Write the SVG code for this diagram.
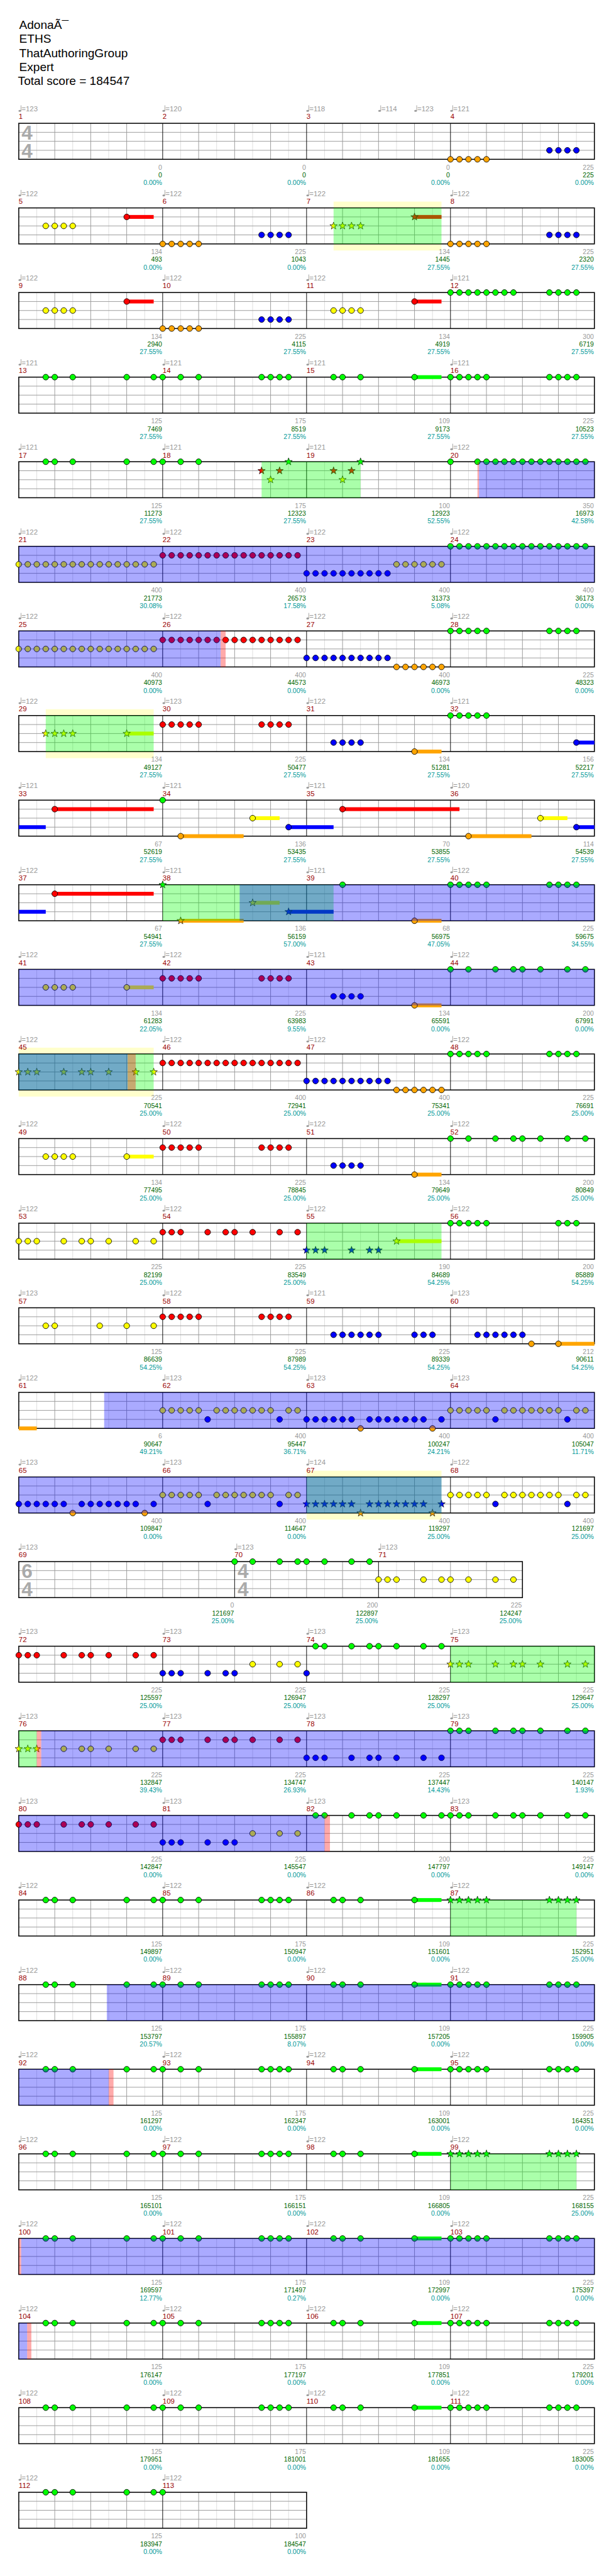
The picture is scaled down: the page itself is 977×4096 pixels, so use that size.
<svg xmlns="http://www.w3.org/2000/svg" xmlns:xlink="http://www.w3.org/1999/xlink" width="977" height="4096" viewBox="0 0 977 4096">
<defs>
<style>
text{font-family:"Liberation Sans",Arial,sans-serif}
.tp{font-size:12px;fill:#999}
.mn{font-size:12px;fill:#900}
.a,.b,.c{font-size:11px;text-anchor:end}
.a{fill:#999}.b{fill:#060}.c{fill:#099}
.ts{font-size:33px;font-weight:bold;fill:#aaa}
.ti{font-size:20px;fill:#000}
.ga{fill:#0f0;fill-opacity:.333}
.ba{fill:#00f;fill-opacity:.333}
.ra{fill:#f00;fill-opacity:.333}
.yh{fill:#ffc}
.uG{fill:#0f0}.uR{fill:#f00}.uY{fill:#ff0}.uB{fill:#00f}.uO{fill:#ffa500}
</style>
<g id="grid4">
<rect width="960" height="60" fill="#fff"/>
<path d="M30,0v60M90,0v60M150,0v60M210,0v60M270,0v60M330,0v60M390,0v60M450,0v60M510,0v60M570,0v60M630,0v60M690,0v60M750,0v60M810,0v60M870,0v60M930,0v60" stroke="#ddd"/>
<path d="M60,0v60M120,0v60M180,0v60M300,0v60M360,0v60M420,0v60M540,0v60M600,0v60M660,0v60M780,0v60M840,0v60M900,0v60M0,15h960M0,30h960M0,45h960" stroke="#999"/>
<path d="M240,0v60M480,0v60M720,0v60" stroke="#000"/>
<rect width="960" height="60" fill="none" stroke="#000" stroke-width="1.6"/>
</g>
<g id="grid3">
<rect width="840" height="60" fill="#fff"/>
<path d="M30,0v60M90,0v60M150,0v60M210,0v60M270,0v60M330,0v60M390,0v60M450,0v60M510,0v60M570,0v60M630,0v60M690,0v60M750,0v60M810,0v60" stroke="#ddd"/>
<path d="M60,0v60M120,0v60M180,0v60M240,0v60M300,0v60M420,0v60M480,0v60M540,0v60M660,0v60M720,0v60M780,0v60M0,15h840M0,30h840M0,45h840" stroke="#999"/>
<path d="M360,0v60M600,0v60" stroke="#000"/>
<rect width="840" height="60" fill="none" stroke="#000" stroke-width="1.6"/>
</g>
<g id="grid2">
<rect width="480" height="60" fill="#fff"/>
<path d="M30,0v60M90,0v60M150,0v60M210,0v60M270,0v60M330,0v60M390,0v60M450,0v60" stroke="#ddd"/>
<path d="M60,0v60M120,0v60M180,0v60M300,0v60M360,0v60M420,0v60M0,15h480M0,30h480M0,45h480" stroke="#999"/>
<path d="M240,0v60" stroke="#000"/>
<rect width="480" height="60" fill="none" stroke="#000" stroke-width="1.6"/>
</g>
<g id="tq" fill="#999"><ellipse cx="1.8" cy="-20.8" rx="2.2" ry="1.6"/><rect x="3.2" y="-30" width="0.9" height="9.2"/></g>
<circle id="G" r="4.8" cy="0" fill="#0f0" stroke="#000" stroke-width="0.9"/>
<circle id="R" r="4.8" cy="15" fill="#f00" stroke="#000" stroke-width="0.9"/>
<circle id="Y" r="4.8" cy="30" fill="#ff0" stroke="#000" stroke-width="0.9"/>
<circle id="B" r="4.8" cy="45" fill="#00f" stroke="#000" stroke-width="0.9"/>
<circle id="O" r="4.8" cy="60" fill="#ffa500" stroke="#000" stroke-width="0.9"/>
<path id="sp" d="M0,-6.5L1.53,-2.1L6.18,-2.01L2.47,0.8L3.82,5.26L0,2.6L-3.82,5.26L-2.47,0.8L-6.18,-2.01L-1.53,-2.1Z"/>
<use id="sG" href="#sp" fill="#0f0" stroke="#000" stroke-width="0.7"/>
<use id="sR" href="#sp" y="15" fill="#f00" stroke="#000" stroke-width="0.7"/>
<use id="sY" href="#sp" y="30" fill="#ff0" stroke="#000" stroke-width="0.7"/>
<use id="sB" href="#sp" y="45" fill="#00f" stroke="#000" stroke-width="0.7"/>
<use id="sO" href="#sp" y="60" fill="#ffa500" stroke="#000" stroke-width="0.7"/>
<g id="gp3">
<rect class="uG" x="660" y="-3.2" width="45" height="6.4"/>
<use href="#G" x="45"/><use href="#G" x="60"/><use href="#G" x="90"/><use href="#G" x="180"/><use href="#G" x="225"/><use href="#G" x="240"/><use href="#G" x="270"/><use href="#G" x="300"/>
<use href="#G" x="405"/><use href="#G" x="420"/><use href="#G" x="435"/><use href="#G" x="450"/>
<use href="#G" x="525"/><use href="#G" x="540"/><use href="#G" x="570"/><use href="#G" x="660"/>
</g>
<g id="gp1"><use href="#G" x="720"/><use href="#G" x="735"/><use href="#G" x="750"/><use href="#G" x="765"/><use href="#G" x="780"/><use href="#G" x="885"/><use href="#G" x="900"/><use href="#G" x="915"/><use href="#G" x="930"/></g>
<g id="gs1"><use href="#sG" x="720"/><use href="#sG" x="735"/><use href="#sG" x="750"/><use href="#sG" x="765"/><use href="#sG" x="780"/><use href="#sG" x="885"/><use href="#sG" x="900"/><use href="#sG" x="915"/><use href="#sG" x="930"/></g>
<g id="t4">
<use href="#tq" x="0"/><use href="#tq" x="240"/><use href="#tq" x="480"/><use href="#tq" x="720"/>
</g>
</defs>
<rect width="977" height="4096" fill="#fff"/>
<g transform="scale(0.9541)">
<g id="header">
<text class="ti" x="32" y="48">AdonaÃ¯</text>
<text class="ti" x="32" y="71.5">ETHS</text>
<text class="ti" x="32" y="95">ThatAuthoringGroup</text>
<text class="ti" x="32" y="118.5">Expert</text>
<text class="ti" x="30" y="142">Total score = 184547</text>
</g>

<g id="row0" transform="translate(31.3,205.5)">
<use href="#grid4"/>
<text class="ts" x="4.7" y="26.7">4</text><text class="ts" x="4.7" y="57.3">4</text>
<use href="#O" x="720"/><use href="#O" x="735"/><use href="#O" x="750"/><use href="#O" x="765"/><use href="#O" x="780"/>
<use href="#B" x="885"/><use href="#B" x="900"/><use href="#B" x="915"/><use href="#B" x="930"/>
<use href="#tq" x="0"/><text class="tp" x="4.7" y="-20">=123</text>
<use href="#tq" x="240"/><text class="tp" x="244.7" y="-20">=120</text>
<use href="#tq" x="480"/><text class="tp" x="484.7" y="-20">=118</text>
<use href="#tq" x="600"/><text class="tp" x="604.7" y="-20">=114</text>
<use href="#tq" x="660"/><text class="tp" x="664.7" y="-20">=123</text>
<use href="#tq" x="720"/><text class="tp" x="724.7" y="-20">=121</text>
<text class="mn" x="0" y="-7">1</text><text class="mn" x="240" y="-7">2</text><text class="mn" x="480" y="-7">3</text><text class="mn" x="720" y="-7">4</text>
<text class="a" x="239" y="77">0</text><text class="b" x="239" y="90">0</text><text class="c" x="239" y="103">0.00%</text>
<text class="a" x="479" y="77">0</text><text class="b" x="479" y="90">0</text><text class="c" x="479" y="103">0.00%</text>
<text class="a" x="719" y="77">0</text><text class="b" x="719" y="90">0</text><text class="c" x="719" y="103">0.00%</text>
<text class="a" x="959" y="77">225</text><text class="b" x="959" y="90">225</text><text class="c" x="959" y="103">0.00%</text>
</g>

<g id="row1" transform="translate(31.3,346.5)">
<rect class="yh" x="525" y="-10.5" width="180" height="81.5"/>
<use href="#grid4"/>
<rect class="uR" x="180" y="11.8" width="45" height="6.4"/><rect class="uR" x="660" y="11.8" width="45" height="6.4"/>
<use href="#Y" x="45"/><use href="#Y" x="60"/><use href="#Y" x="75"/><use href="#Y" x="90"/>
<use href="#R" x="180"/>
<use href="#O" x="240"/><use href="#O" x="255"/><use href="#O" x="270"/><use href="#O" x="285"/><use href="#O" x="300"/>
<use href="#B" x="405"/><use href="#B" x="420"/><use href="#B" x="435"/><use href="#B" x="450"/>
<use href="#sY" x="525"/><use href="#sY" x="540"/><use href="#sY" x="555"/><use href="#sY" x="570"/>
<use href="#sR" x="660"/>
<use href="#O" x="720"/><use href="#O" x="735"/><use href="#O" x="750"/><use href="#O" x="765"/><use href="#O" x="780"/>
<use href="#B" x="885"/><use href="#B" x="900"/><use href="#B" x="915"/><use href="#B" x="930"/>
<rect class="ga" x="525" width="180" height="60"/>
<use href="#t4"/><text class="tp" x="4.7" y="-20">=122</text><text class="tp" x="244.7" y="-20">=122</text><text class="tp" x="484.7" y="-20">=122</text><text class="tp" x="724.7" y="-20">=122</text>
<text class="mn" x="0" y="-7">5</text><text class="mn" x="240" y="-7">6</text><text class="mn" x="480" y="-7">7</text><text class="mn" x="720" y="-7">8</text>
<text class="a" x="239" y="77">134</text><text class="b" x="239" y="90">493</text><text class="c" x="239" y="103">0.00%</text>
<text class="a" x="479" y="77">225</text><text class="b" x="479" y="90">1043</text><text class="c" x="479" y="103">0.00%</text>
<text class="a" x="719" y="77">134</text><text class="b" x="719" y="90">1445</text><text class="c" x="719" y="103">27.55%</text>
<text class="a" x="959" y="77">225</text><text class="b" x="959" y="90">2320</text><text class="c" x="959" y="103">27.55%</text>
</g>

<g id="row2" transform="translate(31.3,487.5)">
<use href="#grid4"/>
<rect class="uR" x="180" y="11.8" width="45" height="6.4"/><rect class="uR" x="660" y="11.8" width="45" height="6.4"/>
<use href="#Y" x="45"/><use href="#Y" x="60"/><use href="#Y" x="75"/><use href="#Y" x="90"/>
<use href="#R" x="180"/>
<use href="#O" x="240"/><use href="#O" x="255"/><use href="#O" x="270"/><use href="#O" x="285"/><use href="#O" x="300"/>
<use href="#B" x="405"/><use href="#B" x="420"/><use href="#B" x="435"/><use href="#B" x="450"/>
<use href="#Y" x="525"/><use href="#Y" x="540"/><use href="#Y" x="555"/><use href="#Y" x="570"/>
<use href="#R" x="660"/>
<use href="#G" x="720"/><use href="#G" x="735"/><use href="#G" x="750"/><use href="#G" x="765"/><use href="#G" x="780"/><use href="#G" x="795"/><use href="#G" x="810"/><use href="#G" x="825"/>
<use href="#G" x="885"/><use href="#G" x="900"/><use href="#G" x="915"/><use href="#G" x="930"/>
<use href="#t4"/><text class="tp" x="4.7" y="-20">=122</text><text class="tp" x="244.7" y="-20">=122</text><text class="tp" x="484.7" y="-20">=122</text><text class="tp" x="724.7" y="-20">=121</text>
<text class="mn" x="0" y="-7">9</text><text class="mn" x="240" y="-7">10</text><text class="mn" x="480" y="-7">11</text><text class="mn" x="720" y="-7">12</text>
<text class="a" x="239" y="77">134</text><text class="b" x="239" y="90">2940</text><text class="c" x="239" y="103">27.55%</text>
<text class="a" x="479" y="77">225</text><text class="b" x="479" y="90">4115</text><text class="c" x="479" y="103">27.55%</text>
<text class="a" x="719" y="77">134</text><text class="b" x="719" y="90">4919</text><text class="c" x="719" y="103">27.55%</text>
<text class="a" x="959" y="77">300</text><text class="b" x="959" y="90">6719</text><text class="c" x="959" y="103">27.55%</text>
</g>

<g id="row3" transform="translate(31.3,628.5)">
<use href="#grid4"/>
<use href="#gp3"/><use href="#gp1"/>
<use href="#t4"/><text class="tp" x="4.7" y="-20">=121</text><text class="tp" x="244.7" y="-20">=121</text><text class="tp" x="484.7" y="-20">=121</text><text class="tp" x="724.7" y="-20">=121</text>
<text class="mn" x="0" y="-7">13</text><text class="mn" x="240" y="-7">14</text><text class="mn" x="480" y="-7">15</text><text class="mn" x="720" y="-7">16</text>
<text class="a" x="239" y="77">125</text><text class="b" x="239" y="90">7469</text><text class="c" x="239" y="103">27.55%</text>
<text class="a" x="479" y="77">175</text><text class="b" x="479" y="90">8519</text><text class="c" x="479" y="103">27.55%</text>
<text class="a" x="719" y="77">109</text><text class="b" x="719" y="90">9173</text><text class="c" x="719" y="103">27.55%</text>
<text class="a" x="959" y="77">225</text><text class="b" x="959" y="90">10523</text><text class="c" x="959" y="103">27.55%</text>
</g>

<g id="row4" transform="translate(31.3,769.5)">
<use href="#grid4"/>
<use href="#G" x="45"/><use href="#G" x="60"/><use href="#G" x="90"/><use href="#G" x="180"/><use href="#G" x="225"/><use href="#G" x="240"/><use href="#G" x="270"/><use href="#G" x="300"/>
<use href="#sR" x="405"/><use href="#sY" x="420"/><use href="#sR" x="435"/><use href="#sG" x="450"/>
<use href="#sR" x="525"/><use href="#sY" x="540"/><use href="#sR" x="555"/><use href="#sG" x="570"/>
<use href="#G" x="720"/>
<use href="#G" x="765"/><use href="#G" x="780"/><use href="#G" x="795"/><use href="#G" x="810"/><use href="#G" x="825"/><use href="#G" x="840"/><use href="#G" x="855"/><use href="#G" x="870"/><use href="#G" x="885"/><use href="#G" x="900"/><use href="#G" x="915"/><use href="#G" x="930"/><use href="#G" x="945"/>
<rect class="ga" x="405" width="165" height="60"/>
<rect class="ra" x="765" width="2.5" height="60"/>
<rect class="ba" x="767.5" width="192.5" height="60"/>
<use href="#t4"/><text class="tp" x="4.7" y="-20">=121</text><text class="tp" x="244.7" y="-20">=121</text><text class="tp" x="484.7" y="-20">=121</text><text class="tp" x="724.7" y="-20">=122</text>
<text class="mn" x="0" y="-7">17</text><text class="mn" x="240" y="-7">18</text><text class="mn" x="480" y="-7">19</text><text class="mn" x="720" y="-7">20</text>
<text class="a" x="239" y="77">125</text><text class="b" x="239" y="90">11273</text><text class="c" x="239" y="103">27.55%</text>
<text class="a" x="479" y="77">175</text><text class="b" x="479" y="90">12323</text><text class="c" x="479" y="103">27.55%</text>
<text class="a" x="719" y="77">100</text><text class="b" x="719" y="90">12923</text><text class="c" x="719" y="103">52.55%</text>
<text class="a" x="959" y="77">350</text><text class="b" x="959" y="90">16973</text><text class="c" x="959" y="103">42.58%</text>
</g>

<g id="row5" transform="translate(31.3,910.5)">
<use href="#grid4"/>
<use href="#Y" x="0"/><use href="#Y" x="15"/><use href="#Y" x="30"/><use href="#Y" x="45"/><use href="#Y" x="60"/><use href="#Y" x="75"/><use href="#Y" x="90"/><use href="#Y" x="105"/><use href="#Y" x="120"/><use href="#Y" x="135"/><use href="#Y" x="150"/><use href="#Y" x="165"/><use href="#Y" x="180"/><use href="#Y" x="195"/><use href="#Y" x="210"/><use href="#Y" x="225"/>
<use href="#R" x="240"/><use href="#R" x="255"/><use href="#R" x="270"/><use href="#R" x="285"/><use href="#R" x="300"/><use href="#R" x="315"/><use href="#R" x="330"/><use href="#R" x="345"/><use href="#R" x="360"/><use href="#R" x="375"/><use href="#R" x="390"/><use href="#R" x="405"/><use href="#R" x="420"/><use href="#R" x="435"/><use href="#R" x="450"/><use href="#R" x="465"/>
<use href="#B" x="480"/><use href="#B" x="495"/><use href="#B" x="510"/><use href="#B" x="525"/><use href="#B" x="540"/><use href="#B" x="555"/><use href="#B" x="570"/><use href="#B" x="585"/><use href="#B" x="600"/><use href="#B" x="615"/>
<use href="#Y" x="630"/><use href="#Y" x="645"/><use href="#Y" x="660"/><use href="#Y" x="675"/><use href="#Y" x="690"/><use href="#Y" x="705"/>
<use href="#G" x="720"/><use href="#G" x="735"/><use href="#G" x="750"/><use href="#G" x="765"/><use href="#G" x="780"/><use href="#G" x="795"/><use href="#G" x="810"/><use href="#G" x="825"/><use href="#G" x="840"/><use href="#G" x="855"/><use href="#G" x="870"/><use href="#G" x="885"/><use href="#G" x="900"/><use href="#G" x="915"/><use href="#G" x="930"/><use href="#G" x="945"/>
<rect class="ba" width="960" height="60"/>
<use href="#t4"/><text class="tp" x="4.7" y="-20">=122</text><text class="tp" x="244.7" y="-20">=122</text><text class="tp" x="484.7" y="-20">=122</text><text class="tp" x="724.7" y="-20">=122</text>
<text class="mn" x="0" y="-7">21</text><text class="mn" x="240" y="-7">22</text><text class="mn" x="480" y="-7">23</text><text class="mn" x="720" y="-7">24</text>
<text class="a" x="239" y="77">400</text><text class="b" x="239" y="90">21773</text><text class="c" x="239" y="103">30.08%</text>
<text class="a" x="479" y="77">400</text><text class="b" x="479" y="90">26573</text><text class="c" x="479" y="103">17.58%</text>
<text class="a" x="719" y="77">400</text><text class="b" x="719" y="90">31373</text><text class="c" x="719" y="103">5.08%</text>
<text class="a" x="959" y="77">400</text><text class="b" x="959" y="90">36173</text><text class="c" x="959" y="103">0.00%</text>
</g>

<g id="row6" transform="translate(31.3,1051.5)">
<use href="#grid4"/>
<use href="#Y" x="0"/><use href="#Y" x="15"/><use href="#Y" x="30"/><use href="#Y" x="45"/><use href="#Y" x="60"/><use href="#Y" x="75"/><use href="#Y" x="90"/><use href="#Y" x="105"/><use href="#Y" x="120"/><use href="#Y" x="135"/><use href="#Y" x="150"/><use href="#Y" x="165"/><use href="#Y" x="180"/><use href="#Y" x="195"/><use href="#Y" x="210"/><use href="#Y" x="225"/>
<use href="#R" x="240"/><use href="#R" x="255"/><use href="#R" x="270"/><use href="#R" x="285"/><use href="#R" x="300"/><use href="#R" x="315"/><use href="#R" x="330"/><use href="#R" x="345"/><use href="#R" x="360"/><use href="#R" x="375"/><use href="#R" x="390"/><use href="#R" x="405"/><use href="#R" x="420"/><use href="#R" x="435"/><use href="#R" x="450"/><use href="#R" x="465"/>
<use href="#B" x="480"/><use href="#B" x="495"/><use href="#B" x="510"/><use href="#B" x="525"/><use href="#B" x="540"/><use href="#B" x="555"/><use href="#B" x="570"/><use href="#B" x="585"/><use href="#B" x="600"/><use href="#B" x="615"/>
<use href="#O" x="630"/><use href="#O" x="645"/><use href="#O" x="660"/><use href="#O" x="675"/><use href="#O" x="690"/><use href="#O" x="705"/>
<use href="#G" x="720"/><use href="#G" x="735"/><use href="#G" x="750"/><use href="#G" x="765"/><use href="#G" x="780"/>
<use href="#G" x="885"/><use href="#G" x="900"/><use href="#G" x="915"/><use href="#G" x="930"/>
<rect class="ba" width="336.7" height="60"/><rect class="ra" x="336.7" width="8.3" height="60"/>
<use href="#t4"/><text class="tp" x="4.7" y="-20">=122</text><text class="tp" x="244.7" y="-20">=122</text><text class="tp" x="484.7" y="-20">=122</text><text class="tp" x="724.7" y="-20">=122</text>
<text class="mn" x="0" y="-7">25</text><text class="mn" x="240" y="-7">26</text><text class="mn" x="480" y="-7">27</text><text class="mn" x="720" y="-7">28</text>
<text class="a" x="239" y="77">400</text><text class="b" x="239" y="90">40973</text><text class="c" x="239" y="103">0.00%</text>
<text class="a" x="479" y="77">400</text><text class="b" x="479" y="90">44573</text><text class="c" x="479" y="103">0.00%</text>
<text class="a" x="719" y="77">400</text><text class="b" x="719" y="90">46973</text><text class="c" x="719" y="103">0.00%</text>
<text class="a" x="959" y="77">225</text><text class="b" x="959" y="90">48323</text><text class="c" x="959" y="103">0.00%</text>
</g>

<g id="row7" transform="translate(31.3,1192.5)">
<rect class="yh" x="45" y="-10.5" width="180" height="81.5"/>
<use href="#grid4"/>
<rect class="uY" x="180" y="26.8" width="45" height="6.4"/><rect class="uO" x="660" y="56.8" width="45" height="6.4"/><rect class="uB" x="930" y="41.8" width="30" height="6.4"/>
<use href="#sY" x="45"/><use href="#sY" x="60"/><use href="#sY" x="75"/><use href="#sY" x="90"/><use href="#sY" x="180"/>
<use href="#R" x="240"/><use href="#R" x="255"/><use href="#R" x="270"/><use href="#R" x="285"/><use href="#R" x="300"/>
<use href="#R" x="405"/><use href="#R" x="420"/><use href="#R" x="435"/><use href="#R" x="450"/>
<use href="#B" x="525"/><use href="#B" x="540"/><use href="#B" x="555"/><use href="#B" x="570"/>
<use href="#O" x="660"/>
<use href="#G" x="720"/><use href="#G" x="735"/><use href="#G" x="750"/><use href="#G" x="765"/><use href="#G" x="780"/>
<use href="#B" x="930"/>
<rect class="ga" x="45" width="180" height="60"/>
<use href="#t4"/><text class="tp" x="4.7" y="-20">=122</text><text class="tp" x="244.7" y="-20">=123</text><text class="tp" x="484.7" y="-20">=122</text><text class="tp" x="724.7" y="-20">=121</text>
<text class="mn" x="0" y="-7">29</text><text class="mn" x="240" y="-7">30</text><text class="mn" x="480" y="-7">31</text><text class="mn" x="720" y="-7">32</text>
<text class="a" x="239" y="77">134</text><text class="b" x="239" y="90">49127</text><text class="c" x="239" y="103">27.55%</text>
<text class="a" x="479" y="77">225</text><text class="b" x="479" y="90">50477</text><text class="c" x="479" y="103">27.55%</text>
<text class="a" x="719" y="77">134</text><text class="b" x="719" y="90">51281</text><text class="c" x="719" y="103">27.55%</text>
<text class="a" x="959" y="77">156</text><text class="b" x="959" y="90">52217</text><text class="c" x="959" y="103">27.55%</text>
</g>

<g id="row8" transform="translate(31.3,1333.5)">
<use href="#grid4"/>
<rect class="uB" x="0" y="41.8" width="45" height="6.4"/><rect class="uR" x="60" y="11.8" width="165" height="6.4"/><rect class="uO" x="270" y="56.8" width="105" height="6.4"/><rect class="uY" x="390" y="26.8" width="45" height="6.4"/><rect class="uB" x="450" y="41.8" width="75" height="6.4"/><rect class="uR" x="540" y="11.8" width="195" height="6.4"/><rect class="uO" x="750" y="56.8" width="105" height="6.4"/><rect class="uY" x="870" y="26.8" width="45" height="6.4"/><rect class="uB" x="930" y="41.8" width="30" height="6.4"/>
<use href="#R" x="60"/><use href="#G" x="240"/><use href="#O" x="270"/><use href="#Y" x="390"/><use href="#B" x="450"/><use href="#R" x="540"/><use href="#O" x="750"/><use href="#Y" x="870"/><use href="#B" x="930"/>
<use href="#t4"/><text class="tp" x="4.7" y="-20">=121</text><text class="tp" x="244.7" y="-20">=121</text><text class="tp" x="484.7" y="-20">=121</text><text class="tp" x="724.7" y="-20">=120</text>
<text class="mn" x="0" y="-7">33</text><text class="mn" x="240" y="-7">34</text><text class="mn" x="480" y="-7">35</text><text class="mn" x="720" y="-7">36</text>
<text class="a" x="239" y="77">67</text><text class="b" x="239" y="90">52619</text><text class="c" x="239" y="103">27.55%</text>
<text class="a" x="479" y="77">136</text><text class="b" x="479" y="90">53435</text><text class="c" x="479" y="103">27.55%</text>
<text class="a" x="719" y="77">70</text><text class="b" x="719" y="90">53855</text><text class="c" x="719" y="103">27.55%</text>
<text class="a" x="959" y="77">114</text><text class="b" x="959" y="90">54539</text><text class="c" x="959" y="103">27.55%</text>
</g>

<g id="row9" transform="translate(31.3,1474.5)">
<use href="#grid4"/>
<rect class="uB" x="0" y="41.8" width="45" height="6.4"/><rect class="uR" x="60" y="11.8" width="165" height="6.4"/><rect class="uO" x="270" y="56.8" width="105" height="6.4"/><rect class="uY" x="390" y="26.8" width="45" height="6.4"/><rect class="uB" x="450" y="41.8" width="75" height="6.4"/><rect class="uO" x="660" y="56.8" width="45" height="6.4"/>
<use href="#R" x="60"/><use href="#sG" x="240"/><use href="#sO" x="270"/><use href="#sY" x="390"/><use href="#sB" x="450"/><use href="#G" x="540"/><use href="#O" x="660"/>
<use href="#G" x="720"/><use href="#G" x="735"/><use href="#G" x="750"/><use href="#G" x="765"/><use href="#G" x="780"/>
<use href="#G" x="885"/><use href="#G" x="900"/><use href="#G" x="915"/><use href="#G" x="930"/>
<rect class="ga" x="240" width="285" height="60"/>
<rect class="ba" x="368.4" width="591.6" height="60"/>
<use href="#t4"/><text class="tp" x="4.7" y="-20">=122</text><text class="tp" x="244.7" y="-20">=121</text><text class="tp" x="484.7" y="-20">=121</text><text class="tp" x="724.7" y="-20">=122</text>
<text class="mn" x="0" y="-7">37</text><text class="mn" x="240" y="-7">38</text><text class="mn" x="480" y="-7">39</text><text class="mn" x="720" y="-7">40</text>
<text class="a" x="239" y="77">67</text><text class="b" x="239" y="90">54941</text><text class="c" x="239" y="103">27.55%</text>
<text class="a" x="479" y="77">136</text><text class="b" x="479" y="90">56159</text><text class="c" x="479" y="103">57.00%</text>
<text class="a" x="719" y="77">68</text><text class="b" x="719" y="90">56975</text><text class="c" x="719" y="103">47.05%</text>
<text class="a" x="959" y="77">225</text><text class="b" x="959" y="90">59675</text><text class="c" x="959" y="103">34.55%</text>
</g>

<g id="row10" transform="translate(31.3,1615.5)">
<use href="#grid4"/>
<rect class="uY" x="180" y="26.8" width="45" height="6.4"/><rect class="uO" x="660" y="56.8" width="45" height="6.4"/>
<use href="#Y" x="45"/><use href="#Y" x="60"/><use href="#Y" x="75"/><use href="#Y" x="90"/><use href="#Y" x="180"/>
<use href="#R" x="240"/><use href="#R" x="255"/><use href="#R" x="270"/><use href="#R" x="285"/><use href="#R" x="300"/>
<use href="#R" x="405"/><use href="#R" x="420"/><use href="#R" x="435"/><use href="#R" x="450"/>
<use href="#B" x="525"/><use href="#B" x="540"/><use href="#B" x="555"/><use href="#B" x="570"/>
<use href="#O" x="660"/>
<use href="#G" x="720"/><use href="#G" x="750"/><use href="#G" x="795"/><use href="#G" x="825"/><use href="#G" x="840"/><use href="#G" x="870"/><use href="#G" x="915"/><use href="#G" x="945"/>
<rect class="ba" width="960" height="60"/>
<use href="#t4"/><text class="tp" x="4.7" y="-20">=122</text><text class="tp" x="244.7" y="-20">=122</text><text class="tp" x="484.7" y="-20">=121</text><text class="tp" x="724.7" y="-20">=122</text>
<text class="mn" x="0" y="-7">41</text><text class="mn" x="240" y="-7">42</text><text class="mn" x="480" y="-7">43</text><text class="mn" x="720" y="-7">44</text>
<text class="a" x="239" y="77">134</text><text class="b" x="239" y="90">61283</text><text class="c" x="239" y="103">22.05%</text>
<text class="a" x="479" y="77">225</text><text class="b" x="479" y="90">63983</text><text class="c" x="479" y="103">9.55%</text>
<text class="a" x="719" y="77">134</text><text class="b" x="719" y="90">65591</text><text class="c" x="719" y="103">0.00%</text>
<text class="a" x="959" y="77">200</text><text class="b" x="959" y="90">67991</text><text class="c" x="959" y="103">0.00%</text>
</g>

<g id="row11" transform="translate(31.3,1756.5)">
<rect class="yh" x="0" y="-10.5" width="225" height="81.5"/>
<use href="#grid4"/>
<use href="#sY" x="0"/><use href="#sY" x="15"/><use href="#sY" x="30"/><use href="#sY" x="75"/><use href="#sY" x="105"/><use href="#sY" x="120"/><use href="#sY" x="150"/><use href="#sY" x="195"/><use href="#sY" x="225"/>
<use href="#R" x="240"/><use href="#R" x="255"/><use href="#R" x="270"/><use href="#R" x="285"/><use href="#R" x="300"/><use href="#R" x="315"/><use href="#R" x="330"/><use href="#R" x="345"/><use href="#R" x="360"/><use href="#R" x="375"/><use href="#R" x="390"/><use href="#R" x="405"/><use href="#R" x="420"/><use href="#R" x="435"/><use href="#R" x="450"/><use href="#R" x="465"/>
<use href="#B" x="480"/><use href="#B" x="495"/><use href="#B" x="510"/><use href="#B" x="525"/><use href="#B" x="540"/><use href="#B" x="555"/><use href="#B" x="570"/><use href="#B" x="585"/><use href="#B" x="600"/><use href="#B" x="615"/>
<use href="#O" x="630"/><use href="#O" x="645"/><use href="#O" x="660"/><use href="#O" x="675"/><use href="#O" x="690"/><use href="#O" x="705"/>
<use href="#G" x="720"/><use href="#G" x="735"/><use href="#G" x="750"/><use href="#G" x="765"/><use href="#G" x="780"/>
<use href="#G" x="885"/><use href="#G" x="900"/><use href="#G" x="915"/><use href="#G" x="930"/>
<rect class="ga" width="225" height="60"/>
<rect class="ba" width="181.6" height="60"/><rect class="ra" x="181.6" width="13.4" height="60"/>
<use href="#t4"/><text class="tp" x="4.7" y="-20">=122</text><text class="tp" x="244.7" y="-20">=122</text><text class="tp" x="484.7" y="-20">=122</text><text class="tp" x="724.7" y="-20">=122</text>
<text class="mn" x="0" y="-7">45</text><text class="mn" x="240" y="-7">46</text><text class="mn" x="480" y="-7">47</text><text class="mn" x="720" y="-7">48</text>
<text class="a" x="239" y="77">225</text><text class="b" x="239" y="90">70541</text><text class="c" x="239" y="103">25.00%</text>
<text class="a" x="479" y="77">400</text><text class="b" x="479" y="90">72941</text><text class="c" x="479" y="103">25.00%</text>
<text class="a" x="719" y="77">400</text><text class="b" x="719" y="90">75341</text><text class="c" x="719" y="103">25.00%</text>
<text class="a" x="959" y="77">225</text><text class="b" x="959" y="90">76691</text><text class="c" x="959" y="103">25.00%</text>
</g>

<g id="row12" transform="translate(31.3,1897.5)">
<use href="#grid4"/>
<rect class="uY" x="180" y="26.8" width="45" height="6.4"/><rect class="uO" x="660" y="56.8" width="45" height="6.4"/>
<use href="#Y" x="45"/><use href="#Y" x="60"/><use href="#Y" x="75"/><use href="#Y" x="90"/><use href="#Y" x="180"/>
<use href="#R" x="240"/><use href="#R" x="255"/><use href="#R" x="270"/><use href="#R" x="285"/><use href="#R" x="300"/>
<use href="#R" x="405"/><use href="#R" x="420"/><use href="#R" x="435"/><use href="#R" x="450"/>
<use href="#B" x="525"/><use href="#B" x="540"/><use href="#B" x="555"/><use href="#B" x="570"/>
<use href="#O" x="660"/>
<use href="#G" x="720"/><use href="#G" x="750"/><use href="#G" x="795"/><use href="#G" x="825"/><use href="#G" x="840"/><use href="#G" x="870"/><use href="#G" x="915"/><use href="#G" x="945"/>
<use href="#t4"/><text class="tp" x="4.7" y="-20">=122</text><text class="tp" x="244.7" y="-20">=122</text><text class="tp" x="484.7" y="-20">=122</text><text class="tp" x="724.7" y="-20">=122</text>
<text class="mn" x="0" y="-7">49</text><text class="mn" x="240" y="-7">50</text><text class="mn" x="480" y="-7">51</text><text class="mn" x="720" y="-7">52</text>
<text class="a" x="239" y="77">134</text><text class="b" x="239" y="90">77495</text><text class="c" x="239" y="103">25.00%</text>
<text class="a" x="479" y="77">225</text><text class="b" x="479" y="90">78845</text><text class="c" x="479" y="103">25.00%</text>
<text class="a" x="719" y="77">134</text><text class="b" x="719" y="90">79649</text><text class="c" x="719" y="103">25.00%</text>
<text class="a" x="959" y="77">200</text><text class="b" x="959" y="90">80849</text><text class="c" x="959" y="103">25.00%</text>
</g>

<g id="row13" transform="translate(31.3,2038.5)">
<use href="#grid4"/>
<rect class="uY" x="630" y="26.8" width="75" height="6.4"/>
<use href="#Y" x="0"/><use href="#Y" x="15"/><use href="#Y" x="30"/><use href="#Y" x="75"/><use href="#Y" x="105"/><use href="#Y" x="120"/><use href="#Y" x="150"/><use href="#Y" x="195"/><use href="#Y" x="225"/>
<use href="#R" x="240"/><use href="#R" x="255"/><use href="#R" x="270"/><use href="#R" x="315"/><use href="#R" x="345"/><use href="#R" x="360"/><use href="#R" x="390"/><use href="#R" x="435"/><use href="#R" x="465"/>
<use href="#sB" x="480"/><use href="#sB" x="495"/><use href="#sB" x="510"/><use href="#sB" x="555"/><use href="#sB" x="585"/><use href="#sB" x="600"/>
<use href="#sY" x="630"/>
<use href="#G" x="720"/><use href="#G" x="735"/><use href="#G" x="750"/><use href="#G" x="765"/><use href="#G" x="780"/>
<use href="#G" x="900"/><use href="#G" x="915"/><use href="#G" x="930"/>
<rect class="ga" x="480" width="225" height="60"/>
<use href="#t4"/><text class="tp" x="4.7" y="-20">=122</text><text class="tp" x="244.7" y="-20">=122</text><text class="tp" x="484.7" y="-20">=122</text><text class="tp" x="724.7" y="-20">=122</text>
<text class="mn" x="0" y="-7">53</text><text class="mn" x="240" y="-7">54</text><text class="mn" x="480" y="-7">55</text><text class="mn" x="720" y="-7">56</text>
<text class="a" x="239" y="77">225</text><text class="b" x="239" y="90">82199</text><text class="c" x="239" y="103">25.00%</text>
<text class="a" x="479" y="77">225</text><text class="b" x="479" y="90">83549</text><text class="c" x="479" y="103">25.00%</text>
<text class="a" x="719" y="77">190</text><text class="b" x="719" y="90">84689</text><text class="c" x="719" y="103">54.25%</text>
<text class="a" x="959" y="77">200</text><text class="b" x="959" y="90">85889</text><text class="c" x="959" y="103">54.25%</text>
</g>

<g id="row14" transform="translate(31.3,2179.5)">
<use href="#grid4"/>
<rect class="uO" x="900" y="56.8" width="60" height="6.4"/>
<use href="#Y" x="45"/><use href="#Y" x="60"/><use href="#Y" x="135"/><use href="#Y" x="180"/><use href="#Y" x="225"/>
<use href="#R" x="240"/><use href="#R" x="255"/><use href="#R" x="270"/><use href="#R" x="285"/><use href="#R" x="300"/>
<use href="#R" x="405"/><use href="#R" x="420"/><use href="#R" x="435"/><use href="#R" x="450"/>
<use href="#B" x="525"/><use href="#B" x="540"/><use href="#B" x="555"/><use href="#B" x="570"/><use href="#B" x="585"/><use href="#B" x="600"/>
<use href="#B" x="660"/><use href="#B" x="675"/><use href="#B" x="690"/>
<use href="#B" x="765"/><use href="#B" x="780"/><use href="#B" x="795"/><use href="#B" x="810"/><use href="#B" x="825"/><use href="#B" x="840"/>
<use href="#O" x="855"/><use href="#O" x="900"/>
<use href="#t4"/><text class="tp" x="4.7" y="-20">=123</text><text class="tp" x="244.7" y="-20">=122</text><text class="tp" x="484.7" y="-20">=121</text><text class="tp" x="724.7" y="-20">=123</text>
<text class="mn" x="0" y="-7">57</text><text class="mn" x="240" y="-7">58</text><text class="mn" x="480" y="-7">59</text><text class="mn" x="720" y="-7">60</text>
<text class="a" x="239" y="77">125</text><text class="b" x="239" y="90">86639</text><text class="c" x="239" y="103">54.25%</text>
<text class="a" x="479" y="77">225</text><text class="b" x="479" y="90">87989</text><text class="c" x="479" y="103">54.25%</text>
<text class="a" x="719" y="77">225</text><text class="b" x="719" y="90">89339</text><text class="c" x="719" y="103">54.25%</text>
<text class="a" x="959" y="77">212</text><text class="b" x="959" y="90">90611</text><text class="c" x="959" y="103">54.25%</text>
</g>

<g id="row15" transform="translate(31.3,2320.5)">
<use href="#grid4"/>
<rect class="uO" x="0" y="56.8" width="30" height="6.4"/>
<use href="#Y" x="240"/><use href="#Y" x="255"/><use href="#Y" x="270"/><use href="#Y" x="285"/><use href="#Y" x="300"/>
<use href="#Y" x="330"/><use href="#Y" x="345"/><use href="#Y" x="360"/><use href="#Y" x="375"/><use href="#Y" x="390"/><use href="#Y" x="405"/><use href="#Y" x="420"/><use href="#Y" x="450"/><use href="#Y" x="465"/>
<use href="#Y" x="720"/><use href="#Y" x="735"/><use href="#Y" x="750"/><use href="#Y" x="765"/><use href="#Y" x="780"/>
<use href="#Y" x="810"/><use href="#Y" x="825"/><use href="#Y" x="840"/><use href="#Y" x="855"/><use href="#Y" x="870"/><use href="#Y" x="885"/><use href="#Y" x="900"/><use href="#Y" x="930"/><use href="#Y" x="945"/>
<use href="#B" x="315"/><use href="#B" x="435"/>
<use href="#B" x="480"/><use href="#B" x="495"/><use href="#B" x="510"/><use href="#B" x="525"/><use href="#B" x="540"/><use href="#B" x="555"/>
<use href="#B" x="585"/><use href="#B" x="600"/><use href="#B" x="615"/><use href="#B" x="630"/><use href="#B" x="645"/><use href="#B" x="660"/><use href="#B" x="675"/>
<use href="#B" x="705"/><use href="#B" x="795"/><use href="#B" x="915"/>
<use href="#O" x="570"/><use href="#O" x="690"/>
<rect class="ba" x="142.4" width="817.6" height="60"/>
<use href="#t4"/><text class="tp" x="4.7" y="-20">=122</text><text class="tp" x="244.7" y="-20">=123</text><text class="tp" x="484.7" y="-20">=123</text><text class="tp" x="724.7" y="-20">=123</text>
<text class="mn" x="0" y="-7">61</text><text class="mn" x="240" y="-7">62</text><text class="mn" x="480" y="-7">63</text><text class="mn" x="720" y="-7">64</text>
<text class="a" x="239" y="77">6</text><text class="b" x="239" y="90">90647</text><text class="c" x="239" y="103">49.21%</text>
<text class="a" x="479" y="77">400</text><text class="b" x="479" y="90">95447</text><text class="c" x="479" y="103">36.71%</text>
<text class="a" x="719" y="77">400</text><text class="b" x="719" y="90">100247</text><text class="c" x="719" y="103">24.21%</text>
<text class="a" x="959" y="77">400</text><text class="b" x="959" y="90">105047</text><text class="c" x="959" y="103">11.71%</text>
</g>

<g id="row16" transform="translate(31.3,2461.5)">
<rect class="yh" x="480" y="-10.5" width="225" height="81.5"/>
<use href="#grid4"/>
<use href="#B" x="0"/><use href="#B" x="15"/><use href="#B" x="30"/><use href="#B" x="45"/><use href="#B" x="60"/><use href="#B" x="75"/>
<use href="#B" x="105"/><use href="#B" x="120"/><use href="#B" x="135"/><use href="#B" x="150"/><use href="#B" x="165"/><use href="#B" x="180"/><use href="#B" x="195"/>
<use href="#B" x="225"/><use href="#B" x="315"/><use href="#B" x="435"/>
<use href="#sB" x="480"/><use href="#sB" x="495"/><use href="#sB" x="510"/><use href="#sB" x="525"/><use href="#sB" x="540"/><use href="#sB" x="555"/>
<use href="#sB" x="585"/><use href="#sB" x="600"/><use href="#sB" x="615"/><use href="#sB" x="630"/><use href="#sB" x="645"/><use href="#sB" x="660"/><use href="#sB" x="675"/>
<use href="#sB" x="705"/><use href="#B" x="795"/><use href="#B" x="915"/>
<use href="#O" x="90"/><use href="#O" x="210"/><use href="#sO" x="570"/><use href="#sO" x="690"/>
<use href="#Y" x="240"/><use href="#Y" x="255"/><use href="#Y" x="270"/><use href="#Y" x="285"/><use href="#Y" x="300"/>
<use href="#Y" x="330"/><use href="#Y" x="345"/><use href="#Y" x="360"/><use href="#Y" x="375"/><use href="#Y" x="390"/><use href="#Y" x="405"/><use href="#Y" x="420"/><use href="#Y" x="450"/><use href="#Y" x="465"/>
<use href="#Y" x="720"/><use href="#Y" x="735"/><use href="#Y" x="750"/><use href="#Y" x="765"/><use href="#Y" x="780"/>
<use href="#Y" x="810"/><use href="#Y" x="825"/><use href="#Y" x="840"/><use href="#Y" x="855"/><use href="#Y" x="870"/><use href="#Y" x="885"/><use href="#Y" x="900"/><use href="#Y" x="930"/><use href="#Y" x="945"/>
<rect class="ga" x="480" width="225" height="60"/>
<rect class="ba" width="705" height="60"/>
<use href="#t4"/><text class="tp" x="4.7" y="-20">=123</text><text class="tp" x="244.7" y="-20">=123</text><text class="tp" x="484.7" y="-20">=124</text><text class="tp" x="724.7" y="-20">=122</text>
<text class="mn" x="0" y="-7">65</text><text class="mn" x="240" y="-7">66</text><text class="mn" x="480" y="-7">67</text><text class="mn" x="720" y="-7">68</text>
<text class="a" x="239" y="77">400</text><text class="b" x="239" y="90">109847</text><text class="c" x="239" y="103">0.00%</text>
<text class="a" x="479" y="77">400</text><text class="b" x="479" y="90">114647</text><text class="c" x="479" y="103">0.00%</text>
<text class="a" x="719" y="77">400</text><text class="b" x="719" y="90">119297</text><text class="c" x="719" y="103">25.00%</text>
<text class="a" x="959" y="77">400</text><text class="b" x="959" y="90">121697</text><text class="c" x="959" y="103">25.00%</text>
</g>

<g id="row17" transform="translate(31.3,2602.5)">
<use href="#grid3"/>
<text class="ts" x="4.7" y="26.7">6</text><text class="ts" x="4.7" y="57.3">4</text>
<text class="ts" x="365" y="26.7">4</text><text class="ts" x="365" y="57.3">4</text>
<use href="#G" x="360"/><use href="#G" x="390"/><use href="#G" x="435"/><use href="#G" x="465"/><use href="#G" x="480"/><use href="#G" x="510"/><use href="#G" x="555"/><use href="#G" x="585"/>
<use href="#Y" x="600"/><use href="#Y" x="615"/><use href="#Y" x="630"/><use href="#Y" x="675"/><use href="#Y" x="705"/><use href="#Y" x="720"/><use href="#Y" x="750"/><use href="#Y" x="795"/><use href="#Y" x="825"/>
<use href="#tq" x="0"/><text class="tp" x="4.7" y="-20">=123</text>
<use href="#tq" x="360"/><text class="tp" x="364.7" y="-20">=123</text>
<use href="#tq" x="600"/><text class="tp" x="604.7" y="-20">=123</text>
<text class="mn" x="0" y="-7">69</text><text class="mn" x="360" y="-7">70</text><text class="mn" x="600" y="-7">71</text>
<text class="a" x="359" y="77">0</text><text class="b" x="359" y="90">121697</text><text class="c" x="359" y="103">25.00%</text>
<text class="a" x="599" y="77">200</text><text class="b" x="599" y="90">122897</text><text class="c" x="599" y="103">25.00%</text>
<text class="a" x="839" y="77">225</text><text class="b" x="839" y="90">124247</text><text class="c" x="839" y="103">25.00%</text>
</g>

<g id="row18" transform="translate(31.3,2743.5)">
<use href="#grid4"/>
<use href="#R" x="0"/><use href="#R" x="15"/><use href="#R" x="30"/><use href="#R" x="75"/><use href="#R" x="105"/><use href="#R" x="120"/><use href="#R" x="150"/><use href="#R" x="195"/><use href="#R" x="225"/>
<use href="#B" x="240"/><use href="#B" x="255"/><use href="#B" x="270"/><use href="#B" x="315"/><use href="#B" x="345"/><use href="#B" x="360"/><use href="#B" x="480"/>
<use href="#Y" x="390"/><use href="#Y" x="435"/><use href="#Y" x="465"/>
<use href="#G" x="495"/><use href="#G" x="510"/><use href="#G" x="555"/><use href="#G" x="585"/><use href="#G" x="600"/><use href="#G" x="630"/><use href="#G" x="675"/><use href="#G" x="705"/>
<use href="#sY" x="720"/><use href="#sY" x="735"/><use href="#sY" x="750"/><use href="#sY" x="795"/><use href="#sY" x="825"/><use href="#sY" x="840"/><use href="#sY" x="870"/><use href="#sY" x="915"/><use href="#sY" x="945"/>
<rect class="ga" x="720" width="240" height="60"/>
<use href="#t4"/><text class="tp" x="4.7" y="-20">=123</text><text class="tp" x="244.7" y="-20">=123</text><text class="tp" x="484.7" y="-20">=123</text><text class="tp" x="724.7" y="-20">=123</text>
<text class="mn" x="0" y="-7">72</text><text class="mn" x="240" y="-7">73</text><text class="mn" x="480" y="-7">74</text><text class="mn" x="720" y="-7">75</text>
<text class="a" x="239" y="77">225</text><text class="b" x="239" y="90">125597</text><text class="c" x="239" y="103">25.00%</text>
<text class="a" x="479" y="77">225</text><text class="b" x="479" y="90">126947</text><text class="c" x="479" y="103">25.00%</text>
<text class="a" x="719" y="77">225</text><text class="b" x="719" y="90">128297</text><text class="c" x="719" y="103">25.00%</text>
<text class="a" x="959" y="77">225</text><text class="b" x="959" y="90">129647</text><text class="c" x="959" y="103">25.00%</text>
</g>

<g id="row19" transform="translate(31.3,2884.5)">
<use href="#grid4"/>
<use href="#sY" x="0"/><use href="#sY" x="15"/><use href="#sY" x="30"/>
<use href="#Y" x="75"/><use href="#Y" x="105"/><use href="#Y" x="120"/><use href="#Y" x="150"/><use href="#Y" x="195"/><use href="#Y" x="225"/>
<use href="#R" x="240"/><use href="#R" x="255"/><use href="#R" x="270"/><use href="#R" x="315"/><use href="#R" x="345"/><use href="#R" x="360"/><use href="#R" x="390"/><use href="#R" x="435"/><use href="#R" x="465"/>
<use href="#B" x="480"/><use href="#B" x="495"/><use href="#B" x="510"/><use href="#B" x="555"/><use href="#B" x="585"/><use href="#B" x="600"/><use href="#B" x="630"/><use href="#B" x="675"/><use href="#B" x="705"/>
<use href="#G" x="720"/><use href="#G" x="735"/><use href="#G" x="750"/><use href="#G" x="795"/><use href="#G" x="825"/><use href="#G" x="840"/><use href="#G" x="870"/><use href="#G" x="915"/><use href="#G" x="945"/>
<rect class="ga" width="30" height="60"/><rect class="ra" x="30" width="7.5" height="60"/><rect class="ba" x="37.5" width="922.5" height="60"/>
<use href="#t4"/><text class="tp" x="4.7" y="-20">=123</text><text class="tp" x="244.7" y="-20">=123</text><text class="tp" x="484.7" y="-20">=123</text><text class="tp" x="724.7" y="-20">=123</text>
<text class="mn" x="0" y="-7">76</text><text class="mn" x="240" y="-7">77</text><text class="mn" x="480" y="-7">78</text><text class="mn" x="720" y="-7">79</text>
<text class="a" x="239" y="77">225</text><text class="b" x="239" y="90">132847</text><text class="c" x="239" y="103">39.43%</text>
<text class="a" x="479" y="77">225</text><text class="b" x="479" y="90">134747</text><text class="c" x="479" y="103">26.93%</text>
<text class="a" x="719" y="77">225</text><text class="b" x="719" y="90">137447</text><text class="c" x="719" y="103">14.43%</text>
<text class="a" x="959" y="77">225</text><text class="b" x="959" y="90">140147</text><text class="c" x="959" y="103">1.93%</text>
</g>

<g id="row20" transform="translate(31.3,3025.5)">
<use href="#grid4"/>
<use href="#R" x="0"/><use href="#R" x="15"/><use href="#R" x="30"/><use href="#R" x="75"/><use href="#R" x="105"/><use href="#R" x="120"/><use href="#R" x="150"/><use href="#R" x="195"/><use href="#R" x="225"/>
<use href="#B" x="240"/><use href="#B" x="255"/><use href="#B" x="270"/><use href="#B" x="315"/><use href="#B" x="345"/><use href="#B" x="360"/>
<use href="#Y" x="390"/><use href="#Y" x="435"/><use href="#Y" x="465"/>
<use href="#G" x="495"/><use href="#G" x="510"/><use href="#G" x="555"/><use href="#G" x="585"/><use href="#G" x="600"/><use href="#G" x="630"/><use href="#G" x="675"/><use href="#G" x="705"/>
<use href="#G" x="720"/><use href="#G" x="735"/><use href="#G" x="750"/><use href="#G" x="795"/><use href="#G" x="825"/><use href="#G" x="840"/><use href="#G" x="870"/><use href="#G" x="915"/><use href="#G" x="945"/>
<rect class="ba" width="510" height="60"/><rect class="ra" x="510" width="9" height="60"/>
<use href="#t4"/><text class="tp" x="4.7" y="-20">=123</text><text class="tp" x="244.7" y="-20">=123</text><text class="tp" x="484.7" y="-20">=123</text><text class="tp" x="724.7" y="-20">=123</text>
<text class="mn" x="0" y="-7">80</text><text class="mn" x="240" y="-7">81</text><text class="mn" x="480" y="-7">82</text><text class="mn" x="720" y="-7">83</text>
<text class="a" x="239" y="77">225</text><text class="b" x="239" y="90">142847</text><text class="c" x="239" y="103">0.00%</text>
<text class="a" x="479" y="77">225</text><text class="b" x="479" y="90">145547</text><text class="c" x="479" y="103">0.00%</text>
<text class="a" x="719" y="77">200</text><text class="b" x="719" y="90">147797</text><text class="c" x="719" y="103">0.00%</text>
<text class="a" x="959" y="77">225</text><text class="b" x="959" y="90">149147</text><text class="c" x="959" y="103">0.00%</text>
</g>

<g id="row21" transform="translate(31.3,3166.5)">
<use href="#grid4"/>
<use href="#gp3"/><use href="#gs1"/>
<rect class="ga" x="720" width="210" height="60"/>
<use href="#t4"/><text class="tp" x="4.7" y="-20">=122</text><text class="tp" x="244.7" y="-20">=122</text><text class="tp" x="484.7" y="-20">=122</text><text class="tp" x="724.7" y="-20">=122</text>
<text class="mn" x="0" y="-7">84</text><text class="mn" x="240" y="-7">85</text><text class="mn" x="480" y="-7">86</text><text class="mn" x="720" y="-7">87</text>
<text class="a" x="239" y="77">125</text><text class="b" x="239" y="90">149897</text><text class="c" x="239" y="103">0.00%</text>
<text class="a" x="479" y="77">175</text><text class="b" x="479" y="90">150947</text><text class="c" x="479" y="103">0.00%</text>
<text class="a" x="719" y="77">109</text><text class="b" x="719" y="90">151601</text><text class="c" x="719" y="103">0.00%</text>
<text class="a" x="959" y="77">225</text><text class="b" x="959" y="90">152951</text><text class="c" x="959" y="103">25.00%</text>
</g>

<g id="row22" transform="translate(31.3,3307.5)">
<use href="#grid4"/>
<use href="#gp3"/><use href="#gp1"/>
<rect class="ba" x="146.8" width="813.2" height="60"/>
<use href="#t4"/><text class="tp" x="4.7" y="-20">=122</text><text class="tp" x="244.7" y="-20">=122</text><text class="tp" x="484.7" y="-20">=122</text><text class="tp" x="724.7" y="-20">=122</text>
<text class="mn" x="0" y="-7">88</text><text class="mn" x="240" y="-7">89</text><text class="mn" x="480" y="-7">90</text><text class="mn" x="720" y="-7">91</text>
<text class="a" x="239" y="77">125</text><text class="b" x="239" y="90">153797</text><text class="c" x="239" y="103">20.57%</text>
<text class="a" x="479" y="77">175</text><text class="b" x="479" y="90">155897</text><text class="c" x="479" y="103">8.07%</text>
<text class="a" x="719" y="77">109</text><text class="b" x="719" y="90">157205</text><text class="c" x="719" y="103">0.00%</text>
<text class="a" x="959" y="77">225</text><text class="b" x="959" y="90">159905</text><text class="c" x="959" y="103">0.00%</text>
</g>

<g id="row23" transform="translate(31.3,3448.5)">
<use href="#grid4"/>
<use href="#gp3"/><use href="#gp1"/>
<rect class="ba" width="150" height="60"/><rect class="ra" x="150" width="8" height="60"/>
<use href="#t4"/><text class="tp" x="4.7" y="-20">=122</text><text class="tp" x="244.7" y="-20">=122</text><text class="tp" x="484.7" y="-20">=122</text><text class="tp" x="724.7" y="-20">=122</text>
<text class="mn" x="0" y="-7">92</text><text class="mn" x="240" y="-7">93</text><text class="mn" x="480" y="-7">94</text><text class="mn" x="720" y="-7">95</text>
<text class="a" x="239" y="77">125</text><text class="b" x="239" y="90">161297</text><text class="c" x="239" y="103">0.00%</text>
<text class="a" x="479" y="77">175</text><text class="b" x="479" y="90">162347</text><text class="c" x="479" y="103">0.00%</text>
<text class="a" x="719" y="77">109</text><text class="b" x="719" y="90">163001</text><text class="c" x="719" y="103">0.00%</text>
<text class="a" x="959" y="77">225</text><text class="b" x="959" y="90">164351</text><text class="c" x="959" y="103">0.00%</text>
</g>

<g id="row24" transform="translate(31.3,3589.5)">
<use href="#grid4"/>
<use href="#gp3"/><use href="#gs1"/>
<rect class="ga" x="720" width="210" height="60"/>
<use href="#t4"/><text class="tp" x="4.7" y="-20">=122</text><text class="tp" x="244.7" y="-20">=122</text><text class="tp" x="484.7" y="-20">=122</text><text class="tp" x="724.7" y="-20">=122</text>
<text class="mn" x="0" y="-7">96</text><text class="mn" x="240" y="-7">97</text><text class="mn" x="480" y="-7">98</text><text class="mn" x="720" y="-7">99</text>
<text class="a" x="239" y="77">125</text><text class="b" x="239" y="90">165101</text><text class="c" x="239" y="103">0.00%</text>
<text class="a" x="479" y="77">175</text><text class="b" x="479" y="90">166151</text><text class="c" x="479" y="103">0.00%</text>
<text class="a" x="719" y="77">109</text><text class="b" x="719" y="90">166805</text><text class="c" x="719" y="103">0.00%</text>
<text class="a" x="959" y="77">225</text><text class="b" x="959" y="90">168155</text><text class="c" x="959" y="103">25.00%</text>
</g>

<g id="row25" transform="translate(31.3,3730.5)">
<use href="#grid4"/>
<use href="#gp3"/><use href="#gp1"/>
<rect class="ra" width="4" height="60"/><rect class="ba" x="4" width="956" height="60"/>
<use href="#t4"/><text class="tp" x="4.7" y="-20">=122</text><text class="tp" x="244.7" y="-20">=122</text><text class="tp" x="484.7" y="-20">=122</text><text class="tp" x="724.7" y="-20">=122</text>
<text class="mn" x="0" y="-7">100</text><text class="mn" x="240" y="-7">101</text><text class="mn" x="480" y="-7">102</text><text class="mn" x="720" y="-7">103</text>
<text class="a" x="239" y="77">125</text><text class="b" x="239" y="90">169597</text><text class="c" x="239" y="103">12.77%</text>
<text class="a" x="479" y="77">175</text><text class="b" x="479" y="90">171497</text><text class="c" x="479" y="103">0.27%</text>
<text class="a" x="719" y="77">109</text><text class="b" x="719" y="90">172997</text><text class="c" x="719" y="103">0.00%</text>
<text class="a" x="959" y="77">225</text><text class="b" x="959" y="90">175397</text><text class="c" x="959" y="103">0.00%</text>
</g>

<g id="row26" transform="translate(31.3,3871.5)">
<use href="#grid4"/>
<use href="#gp3"/><use href="#gp1"/>
<rect class="ba" width="14" height="60"/><rect class="ra" x="14" width="7" height="60"/>
<use href="#t4"/><text class="tp" x="4.7" y="-20">=122</text><text class="tp" x="244.7" y="-20">=122</text><text class="tp" x="484.7" y="-20">=122</text><text class="tp" x="724.7" y="-20">=122</text>
<text class="mn" x="0" y="-7">104</text><text class="mn" x="240" y="-7">105</text><text class="mn" x="480" y="-7">106</text><text class="mn" x="720" y="-7">107</text>
<text class="a" x="239" y="77">125</text><text class="b" x="239" y="90">176147</text><text class="c" x="239" y="103">0.00%</text>
<text class="a" x="479" y="77">175</text><text class="b" x="479" y="90">177197</text><text class="c" x="479" y="103">0.00%</text>
<text class="a" x="719" y="77">109</text><text class="b" x="719" y="90">177851</text><text class="c" x="719" y="103">0.00%</text>
<text class="a" x="959" y="77">225</text><text class="b" x="959" y="90">179201</text><text class="c" x="959" y="103">0.00%</text>
</g>

<g id="row27" transform="translate(31.3,4012.5)">
<use href="#grid4"/>
<use href="#gp3"/><use href="#gp1"/>
<use href="#t4"/><text class="tp" x="4.7" y="-20">=122</text><text class="tp" x="244.7" y="-20">=122</text><text class="tp" x="484.7" y="-20">=122</text><text class="tp" x="724.7" y="-20">=122</text>
<text class="mn" x="0" y="-7">108</text><text class="mn" x="240" y="-7">109</text><text class="mn" x="480" y="-7">110</text><text class="mn" x="720" y="-7">111</text>
<text class="a" x="239" y="77">125</text><text class="b" x="239" y="90">179951</text><text class="c" x="239" y="103">0.00%</text>
<text class="a" x="479" y="77">175</text><text class="b" x="479" y="90">181001</text><text class="c" x="479" y="103">0.00%</text>
<text class="a" x="719" y="77">109</text><text class="b" x="719" y="90">181655</text><text class="c" x="719" y="103">0.00%</text>
<text class="a" x="959" y="77">225</text><text class="b" x="959" y="90">183005</text><text class="c" x="959" y="103">0.00%</text>
</g>

<g id="row28" transform="translate(31.3,4153.5)">
<use href="#grid2"/>
<use href="#G" x="45"/><use href="#G" x="60"/><use href="#G" x="90"/><use href="#G" x="180"/><use href="#G" x="225"/><use href="#G" x="240"/>
<use href="#tq" x="0"/><text class="tp" x="4.7" y="-20">=122</text>
<use href="#tq" x="240"/><text class="tp" x="244.7" y="-20">=122</text>
<text class="mn" x="0" y="-7">112</text><text class="mn" x="240" y="-7">113</text>
<text class="a" x="239" y="77">125</text><text class="b" x="239" y="90">183947</text><text class="c" x="239" y="103">0.00%</text>
<text class="a" x="479" y="77">100</text><text class="b" x="479" y="90">184547</text><text class="c" x="479" y="103">0.00%</text>
</g>
</g>
</svg>
